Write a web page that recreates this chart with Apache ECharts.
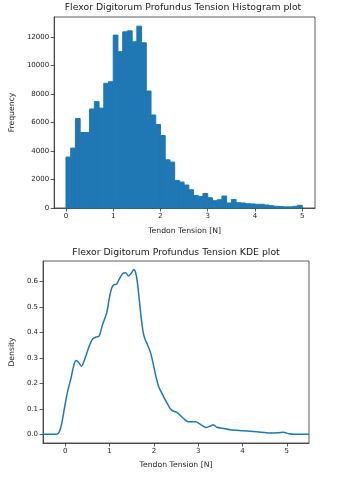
<!DOCTYPE html>
<html>
<head>
    <meta charset="utf-8">
    <title>Flexor Digitorum Profundus Tension</title>
    <script src="https://cdn.jsdelivr.net/npm/echarts@6/dist/echarts.min.js"></script>
    <style>
        html, body { margin: 0; padding: 0; background: #ffffff; }
        #chart { width: 344px; height: 480px; }
    </style>
</head>
<body>
<div id="chart"></div>
<script>
    // histogram bins (left edges, width 0.1 N) and counts
    const binStarts = [0.0, 0.1, 0.2, 0.3, 0.4, 0.5, 0.6, 0.7, 0.8, 0.9,
        1.0, 1.1, 1.2, 1.3, 1.4, 1.5, 1.6, 1.7, 1.8, 1.9,
        2.0, 2.1, 2.2, 2.3, 2.4, 2.5, 2.6, 2.7, 2.8, 2.9,
        3.0, 3.1, 3.2, 3.3, 3.4, 3.5, 3.6, 3.7, 3.8, 3.9,
        4.0, 4.1, 4.2, 4.3, 4.4, 4.5, 4.6, 4.7, 4.8, 4.9];
    const binWidth = 0.1;
    const histCounts = [3570, 4200, 6270, 5290, 5290, 6940, 7455, 7000, 8740, 8850,
        12120, 10960, 12350, 12420, 11650, 12750, 11580, 8200, 6520, 5850,
        5080, 3380, 3220, 1930, 1820, 1610, 1280, 880, 810, 1020,
        720, 510, 580, 840, 350, 600, 370, 350, 300, 285,
        260, 260, 210, 160, 120, 100, 80, 80, 120, 190];

    // KDE curve
    const kdeX = [-0.5, -0.25, -0.17, -0.12, -0.07, -0.02, 0.05, 0.13, 0.20, 0.25,
        0.30, 0.37, 0.42, 0.48, 0.55, 0.62, 0.70, 0.76, 0.84, 0.94,
        1.00, 1.05, 1.10, 1.16, 1.22, 1.30, 1.36, 1.43, 1.50, 1.55,
        1.59, 1.63, 1.67, 1.71, 1.76, 1.80, 1.85, 1.93, 2.00, 2.05,
        2.11, 2.20, 2.30, 2.40, 2.52, 2.64, 2.78, 2.94, 3.05, 3.18,
        3.28, 3.34, 3.42, 3.55, 3.72, 4.02, 4.32, 4.62, 4.80, 4.92,
        5.05, 5.15, 5.5];
    const kdeY = [0, 0, 0.002, 0.015, 0.05, 0.10, 0.165, 0.22, 0.275, 0.29,
        0.283, 0.268, 0.285, 0.315, 0.35, 0.375, 0.383, 0.385, 0.43, 0.48,
        0.54, 0.575, 0.588, 0.59, 0.61, 0.632, 0.635, 0.622, 0.635, 0.648,
        0.635, 0.595, 0.53, 0.465, 0.40, 0.375, 0.355, 0.318, 0.265, 0.225,
        0.187, 0.155, 0.122, 0.095, 0.086, 0.067, 0.049, 0.049, 0.039, 0.027,
        0.033, 0.038, 0.028, 0.024, 0.018, 0.014, 0.010, 0.005, 0.006, 0.008,
        0.002, 0, 0];

    const xTicks = [0, 1, 2, 3, 4, 5];
    const histYTicks = [0, 2000, 4000, 6000, 8000, 10000, 12000];
    const kdeYTicks = [0, 0.1, 0.2, 0.3, 0.4, 0.5, 0.6];

    const blue = '#1f77b4';
    const axisColor = '#333333';
    const font = 'DejaVu Sans';

    const histData = binStarts.map(function (s, i) {
        return [s, s + binWidth, histCounts[i]];
    });
    const kdeData = kdeX.map(function (x, i) {
        return [x, kdeY[i]];
    });

    function axisStyle(ticks, fmt) {
        return {
            axisLine: { show: true, onZero: false, lineStyle: { color: axisColor, width: 0.8 } },
            axisTick: { show: true, customValues: ticks, length: 3.5, lineStyle: { color: axisColor, width: 0.8 } },
            axisLabel: {
                customValues: ticks, color: '#1a1a1a', fontSize: 7, fontFamily: font, margin: 5,
                formatter: fmt
            },
            splitLine: { show: false }
        };
    }

    var chart = echarts.init(document.getElementById('chart'), null, { renderer: 'canvas' });

    var option = {
        backgroundColor: '#ffffff',
        animation: false,
        title: [
            {
                text: 'Flexor Digitorum Profundus Tension Histogram plot',
                left: 183, top: 3, textAlign: 'center', padding: 0,
                textStyle: { fontSize: 9.3, fontWeight: 'normal', color: '#1a1a1a', fontFamily: font }
            },
            {
                text: 'Flexor Digitorum Profundus Tension KDE plot',
                left: 176, top: 248, textAlign: 'center', padding: 0,
                textStyle: { fontSize: 9.3, fontWeight: 'normal', color: '#1a1a1a', fontFamily: font }
            }
        ],
        grid: [
            { left: 51, right: 29, top: 17, bottom: 272, show: true, borderColor: axisColor, borderWidth: 0.8 },
            { left: 42, right: 35, top: 261, bottom: 37, show: true, borderColor: axisColor, borderWidth: 0.8 }
        ],
        xAxis: [
            Object.assign({
                type: 'value', gridIndex: 0, min: -0.25, max: 5.27,
                name: 'Tendon Tension [N]', nameLocation: 'middle', nameGap: 19,
                nameTextStyle: { fontSize: 7.7, color: '#1a1a1a', fontFamily: font }
            }, axisStyle(xTicks, function (v) { return String(v); })),
            Object.assign({
                type: 'value', gridIndex: 1, min: -0.5, max: 5.5,
                name: 'Tendon Tension [N]', nameLocation: 'middle', nameGap: 18,
                nameTextStyle: { fontSize: 7.7, color: '#1a1a1a', fontFamily: font }
            }, axisStyle(xTicks, function (v) { return String(v); }))
        ],
        yAxis: [
            Object.assign({
                type: 'value', gridIndex: 0, min: 0, max: 13390,
                name: 'Frequency', nameLocation: 'middle', nameGap: 34,
                nameTextStyle: { fontSize: 7.7, color: '#1a1a1a', fontFamily: font }
            }, axisStyle(histYTicks, function (v) { return String(v); })),
            Object.assign({
                type: 'value', gridIndex: 1, min: -0.034, max: 0.681,
                name: 'Density', nameLocation: 'middle', nameGap: 23,
                nameTextStyle: { fontSize: 7.7, color: '#1a1a1a', fontFamily: font }
            }, axisStyle(kdeYTicks, function (v) { return v.toFixed(1); }))
        ],
        series: [
            {
                type: 'custom',
                xAxisIndex: 0,
                yAxisIndex: 0,
                encode: { x: [0, 1], y: 2 },
                data: histData,
                renderItem: function (params, api) {
                    var topLeft = api.coord([api.value(0), api.value(2)]);
                    var bottomRight = api.coord([api.value(1), 0]);
                    return {
                        type: 'rect',
                        shape: {
                            x: topLeft[0],
                            y: topLeft[1],
                            width: bottomRight[0] - topLeft[0],
                            height: bottomRight[1] - topLeft[1]
                        },
                        // same-colour outline hides the hairline seams between bins
                        style: { fill: blue, stroke: blue, lineWidth: 1 }
                    };
                }
            },
            {
                type: 'line',
                xAxisIndex: 1,
                yAxisIndex: 1,
                data: kdeData,
                showSymbol: false,
                smooth: 0.3,
                lineStyle: { color: blue, width: 1.5 }
            }
        ]
    };
    chart.setOption(option);
</script>
</body>
</html>
